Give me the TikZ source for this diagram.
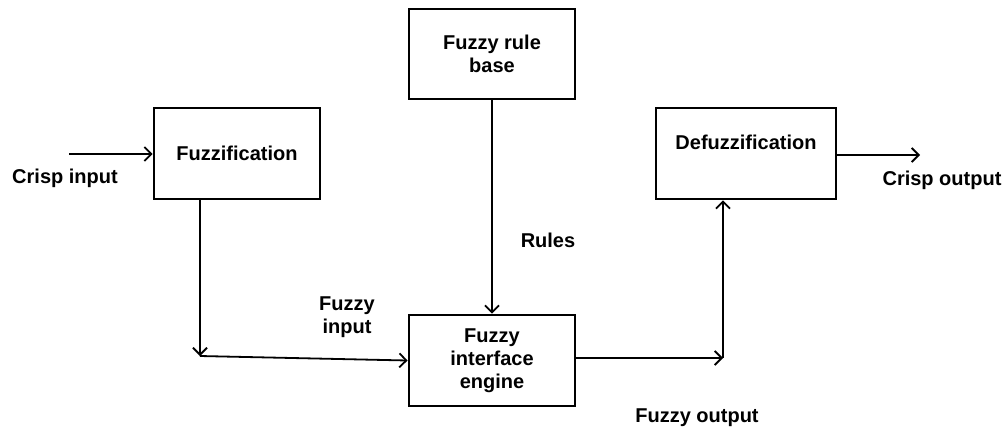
\documentclass[tikz,border=0pt]{standalone}
\usepackage{fontspec}
\setmainfont{Liberation Sans}
\usetikzlibrary{arrows.meta}
\begin{document}
\begin{tikzpicture}[x=1pt,y=-1pt,
  box/.style={draw,line width=2.8pt,inner sep=0pt,align=center,font=\bfseries\fontsize{20}{23}\selectfont},
  lbl/.style={align=center,inner sep=0pt,font=\bfseries\fontsize{20}{23}\selectfont},
  conn/.style={line width=1.8pt},
  arr/.style={conn,-{Straight Barb[length=7pt,width=14pt,line width=1.8pt]}}]
\useasboundingbox (0,0) rectangle (1006,432);
\node[box,minimum width=166pt,minimum height=91pt] (fz) at (237,153.5) {Fuzzification};
\node[box,minimum width=166pt,minimum height=90pt] (rb) at (492,54) {Fuzzy rule\\base};
\node[box,minimum width=166pt,minimum height=91pt] (eng) at (492,360.5) {Fuzzy\\interface\\engine};
\node[box,minimum width=180pt,minimum height=91pt] (dz) at (746,153.5) {Defuzzification\\[-7pt]\strut};
\coordinate (ci) at (69,154);
\coordinate (co) at (920,155);
\coordinate (c1) at (200,356);
\coordinate (c2) at (723,358);
\node[lbl] (lci) at (65,178) {Crisp input};
\node[lbl] (lco) at (942,180) {Crisp output};
\node[lbl] (lru) at (548,240) {Rules};
\node[lbl] (lfi) at (347,317) {Fuzzy\\input};
\node[lbl] (lfo) at (697,418) {Fuzzy output};
\draw[arr] (ci) -- (fz.west |- ci);
\draw[arr] (dz.east |- co) -- (co);
\draw[arr] (rb.south) -- (eng.north);
\draw[arr] (fz.south -| c1) -- (c1);
\draw[arr] (c1) -- (eng.west);
\draw[arr] (eng.east |- c2) -- (c2);
\draw[arr] (c2) -- (dz.south -| c2);
\end{tikzpicture}
\end{document}
